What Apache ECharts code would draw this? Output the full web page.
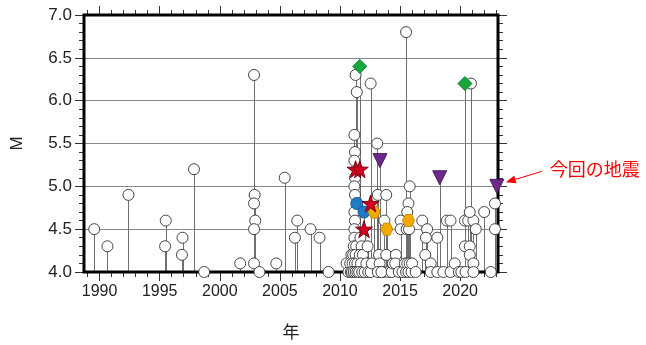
<!DOCTYPE html>
<html><head><meta charset="utf-8">
<script src="https://cdn.jsdelivr.net/npm/echarts@6/dist/echarts.min.js"></script>
<style>html,body{margin:0;padding:0;background:#fff}#c{width:646px;height:345px}</style>
</head><body><div id="c"></div>
<script>
// ---- data ----
const majorYears = [1990, 1995, 2000, 2005, 2010, 2015, 2020];
const allYears = [1989,1990,1991,1992,1993,1994,1995,1996,1997,1998,1999,2000,2001,2002,2003,2004,2005,2006,2007,2008,2009,2010,2011,2012,2013,2014,2015,2016,2017,2018,2019,2020,2021,2022,2023];
const xRange = [1988.7, 2023.15];
const yRange = [4.0, 7.0];
const yInterval = 0.5;

const circles = [
 [1989.55,4.5],[1990.65,4.3],[1992.4,4.9],[1995.5,4.6],[1995.45,4.3],[1996.9,4.4],[1996.85,4.2],[1997.85,5.2],[1998.7,4.0],[2001.7,4.1],
 [2002.85,6.3],[2002.9,4.9],[2002.85,4.8],[2002.95,4.6],[2002.85,4.5],[2002.85,4.1],[2003.3,4.0],[2004.7,4.1],
 [2005.4,5.1],[2006.45,4.6],[2006.25,4.4],[2007.55,4.5],[2008.3,4.4],[2009.05,4.0],
 [2010.55,4.1],[2010.7,4.0],[2010.85,4.1],[2010.9,4.0],[2010.95,4.2],
 [2011.3,6.3],[2011.4,6.1],[2011.2,5.6],[2011.25,5.4],[2011.2,5.3],[2011.25,5.1],[2011.2,5.0],[2011.25,4.9],[2011.2,4.7],[2011.25,4.6],[2011.2,4.5],[2011.2,4.4],[2011.15,4.3],[2011.35,4.3],[2011.1,4.2],[2011.3,4.2],[2011.05,4.1],[2011.25,4.1],[2011.45,4.1],[2011.0,4.0],[2011.15,4.0],[2011.3,4.0],[2011.45,4.0],
 [2011.7,4.4],[2011.8,4.3],[2011.65,4.2],[2011.9,4.2],[2011.75,4.1],[2011.6,4.0],[2011.85,4.0],[2012.05,4.0],[2012.3,4.3],[2012.2,4.1],[2012.35,4.0],[2012.55,6.2],[2012.55,4.0],[2012.65,4.1],
 [2013.1,5.5],[2013.15,4.9],[2013.85,4.9],[2013.7,4.6],[2013.25,4.2],[2013.3,4.1],[2013.15,4.0],[2013.6,4.0],[2013.85,4.2],[2014.05,4.0],[2013.45,4.0],
 [2014.3,4.0],[2014.4,4.1],[2014.65,4.2],[2014.6,4.1],[2014.9,4.0],[2015.05,4.6],[2015.05,4.5],[2015.2,4.0],[2015.4,4.1],
 [2015.5,6.8],[2015.8,5.0],[2015.7,4.8],[2015.6,4.7],[2015.55,4.5],[2015.75,4.5],[2015.5,4.0],[2015.6,4.1],[2015.7,4.0],[2015.8,4.1],[2015.95,4.0],
 [2016.85,4.6],[2017.25,4.5],[2017.15,4.4],[2017.1,4.2],[2016.0,4.1],[2016.3,4.0],[2017.55,4.1],[2017.55,4.0],[2018.1,4.4],[2018.1,4.0],[2018.6,4.0],
 [2018.9,4.6],[2019.2,4.6],[2019.2,4.0],[2019.55,4.1],[2019.9,4.0],[2020.1,4.0],
 [2020.9,6.2],[2020.4,4.6],[2020.67,4.6],[2021.1,4.6],[2020.8,4.7],[2020.4,4.3],[2020.8,4.3],[2020.8,4.2],[2020.45,4.0],[2021.1,4.1],[2021.1,4.0],[2021.3,4.5],[2022.0,4.7],[2022.9,4.8],[2022.9,4.5],[2022.55,4.0]
];
const stars = [[2011.3,5.2],[2011.65,5.2],[2012.55,4.8],[2012.0,4.5]];
const blueCircles = [[2011.4,4.8],[2012.0,4.7]];
const orangeHex = [[2012.85,4.7],[2013.9,4.5],[2015.7,4.6]];
const greenDiamonds = [[2011.65,6.4],[2020.4,6.2]];
const purpleTriangles = [[2013.33,5.3],[2018.3,5.1],[2023.05,5.0]];
const latestQuake = [2023.05, 5.0];
const annotationText = '今回の地震';

// ---- chart ----
const allEvents = [].concat(circles, stars, blueCircles, orangeHex, greenDiamonds, purpleTriangles);
const starPath = 'path://M0,-1 L0.2245,-0.309 L0.951,-0.309 L0.363,0.118 L0.588,0.809 L0,0.382 L-0.588,0.809 L-0.363,0.118 L-0.951,-0.309 L-0.2245,-0.309 Z';
const hexPath = 'path://M-1,0 L-0.5,-0.866 L0.5,-0.866 L1,0 L0.5,0.866 L-0.5,0.866 Z';
const labelFont = 'Liberation Sans';

const chart = echarts.init(document.getElementById('c'), null, {renderer: 'canvas'});

function xAx(pos, ticks, len, showLabel) {
  return {
    type: 'value', position: pos, min: xRange[0], max: xRange[1],
    axisLine: {show: false},
    axisTick: {show: true, customValues: ticks, length: len, lineStyle: {color: '#333', width: 1}},
    axisLabel: showLabel ? {show: true, customValues: majorYears, fontSize: 16, margin: 12, color: '#222', fontFamily: labelFont, formatter: v => String(Math.round(v))} : {show: false},
    splitLine: {show: false}
  };
}
function yAx(pos, showLabel) {
  return {
    type: 'value', position: pos, min: yRange[0], max: yRange[1], interval: yInterval,
    axisLine: {show: false},
    axisTick: {show: true, length: 9, lineStyle: {color: '#333', width: 1}},
    minorTick: {show: true, splitNumber: 5, length: 5, lineStyle: {color: '#333', width: 1}},
    axisLabel: showLabel ? {show: true, fontSize: 17, margin: 12, color: '#222', fontFamily: labelFont, formatter: v => v.toFixed(1)} : {show: false},
    splitLine: {show: showLabel, lineStyle: {color: '#8a8a8a', width: 1}},
    minorSplitLine: {show: false}
  };
}

const xAxes = [xAx('bottom', majorYears, 9, true), xAx('bottom', allYears, 5, false), xAx('top', majorYears, 9, false), xAx('top', allYears, 5, false)];
xAxes[0].name = '年';
xAxes[0].nameLocation = 'middle';
xAxes[0].nameGap = 51;
xAxes[0].nameTextStyle = {fontSize: 17, color: '#222', fontFamily: 'Noto Sans CJK JP'};
const yAxes = [yAx('left', true), yAx('right', false)];
yAxes[0].name = 'M';
yAxes[0].nameLocation = 'middle';
yAxes[0].nameRotate = 90;
yAxes[0].nameGap = 58;
yAxes[0].nameTextStyle = {fontSize: 17, color: '#222', fontFamily: labelFont};

function scatter(data, symbol, size, fill, stroke, extra) {
  return Object.assign({
    type: 'scatter', data: data, symbol: symbol, symbolSize: size, xAxisIndex: 0, yAxisIndex: 0,
    itemStyle: {color: fill, borderColor: stroke, borderWidth: 1, opacity: 1},
    silent: true, clip: false, z: 3
  }, extra || {});
}

chart.setOption({
  animation: false,
  backgroundColor: '#fff',
  grid: {left: 84, right: 148, top: 15, bottom: 73, show: true, borderColor: '#000', borderWidth: 3, backgroundColor: 'transparent', z: 2},
  xAxis: xAxes,
  yAxis: yAxes,
  series: [
    {
      type: 'custom', xAxisIndex: 0, yAxisIndex: 0, data: allEvents, silent: true, z: 1,
      encode: {x: 0, y: 1},
      renderItem: function (params, api) {
        const top = api.coord([api.value(0), api.value(1)]);
        const bot = api.coord([api.value(0), yRange[0]]);
        const x = Math.round(top[0]) + 0.5;
        return {type: 'line', shape: {x1: x, y1: top[1], x2: x, y2: bot[1]}, style: {stroke: '#707070', lineWidth: 1}};
      }
    },
    scatter(circles, 'circle', 11, '#fff', '#444'),
    scatter(blueCircles, 'circle', 12, '#1f7cc4', '#135a92', {z: 4}),
    scatter(orangeHex, hexPath, 12, '#f2a900', '#c98a00', {z: 4}),
    scatter(stars, starPath, 17, '#d4001f', '#7a0010', {z: 5}),
    scatter(greenDiamonds, 'diamond', 14, '#16a83c', '#0c7a28', {z: 5}),
    scatter(purpleTriangles, 'triangle', 14, '#6b2a8a', '#4a1a60', {z: 5, symbolRotate: 180})
  ]
});

// annotation anchored at the latest earthquake
const p = chart.convertToPixel({xAxisIndex: 0, yAxisIndex: 0}, latestQuake);
const tip = [p[0] + 9, p[1] - 4];
const tail = [p[0] + 45, p[1] - 15];
const dx = tip[0] - tail[0], dy = tip[1] - tail[1];
const L = Math.sqrt(dx * dx + dy * dy), ux = dx / L, uy = dy / L;
const hl = 10, hw = 4;
const base = [tip[0] - ux * hl, tip[1] - uy * hl];
chart.setOption({
  graphic: [
    {type: 'line', shape: {x1: tail[0], y1: tail[1], x2: base[0], y2: base[1]}, style: {stroke: '#ff0000', lineWidth: 1}, z: 10},
    {type: 'polygon', shape: {points: [tip, [base[0] - uy * hw, base[1] + ux * hw], [base[0] + uy * hw, base[1] - ux * hw]]}, style: {fill: '#ff0000'}, z: 10},
    {type: 'text', x: p[0] + 53, y: p[1] - 17, style: {text: annotationText, fill: '#ff0000', fontSize: 18, fontFamily: 'Noto Sans CJK JP', verticalAlign: 'middle', align: 'left'}, z: 10}
  ]
});
</script>
</body></html>
